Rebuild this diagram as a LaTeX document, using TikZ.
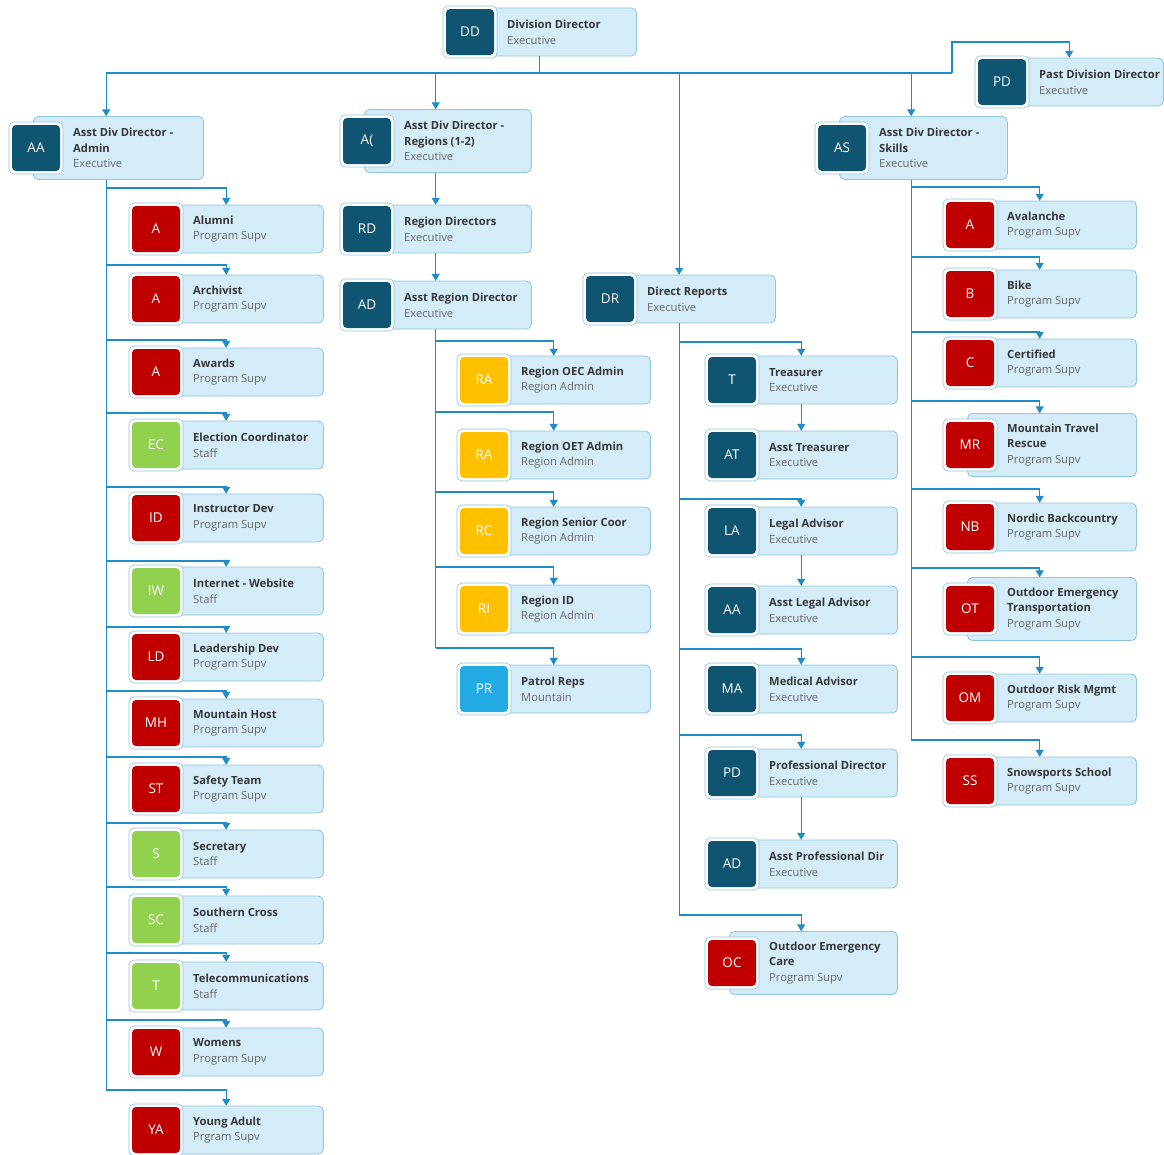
\documentclass[tikz,border=0pt]{standalone}
\usepackage{fontspec}
\setmainfont{Open Sans}
\usetikzlibrary{arrows.meta}
\definecolor{cardfill}{HTML}{D4ECF7}
\definecolor{carddraw}{HTML}{8FC5DF}
\definecolor{conncol}{HTML}{1E8CC7}
\definecolor{dark}{HTML}{0F5470}
\definecolor{redb}{HTML}{C00000}
\definecolor{greenb}{HTML}{92D050}
\definecolor{yellowb}{HTML}{FFC000}
\definecolor{blueb}{HTML}{22ABE2}
\definecolor{titlecol}{HTML}{363636}
\definecolor{subcol}{HTML}{686868}
\newcommand{\subt}[1]{\textcolor{subcol}{\mdseries #1}}
\tikzset{
  slot/.style={draw=none, inner sep=0pt},
  card/.style={draw=carddraw, fill=cardfill, line width=0.8pt, rounded corners=5pt, inner sep=0pt},
  badgeout/.style={draw=carddraw, fill=white, line width=0.6pt, rounded corners=5pt, minimum width=54pt, minimum height=52pt, inner sep=0pt},
  badgein/.style={rounded corners=4pt, minimum width=48pt, minimum height=46pt, inner sep=0pt, text=white, font=\fontsize{13.5}{14}\selectfont},
  lbl/.style={anchor=west, align=left, inner sep=0pt, text=titlecol, font=\fontsize{11.2}{15.6}\selectfont\bfseries},
  line/.style={draw=conncol, line width=1.3pt},
  arr/.style={line, -{Triangle[width=8pt,length=7pt]}}
}
% #1 name, #2 left, #3 right, #4 center y, #5 height, #6 colour, #7 initials, #8 text
\newcommand{\org}[8]{%
  \node[slot, minimum width={#3-#2}, minimum height={#5}, anchor=west] (#1) at (#2,#4) {};
  \node[card, minimum width={#3-#2-24}, minimum height={#5}, anchor=west] (#1-c) at ({#2+24},#4) {};
  \node[badgeout] (#1-bo) at ({#2+27},#4) {};
  \node[badgein, fill=#6] (#1-bi) at ({#2+27},#4) {#7};
  \node[lbl] (#1-t) at ({#2+64},#4) {#8};
}
\newcommand{\branch}[3]{\draw[arr] (#1.south |- 0,#3) -| (#2.north);}
\begin{document}
\begin{tikzpicture}[x=1pt,y=-1pt]
\useasboundingbox[fill=white] (0,0) rectangle (1164,1154);
% top level
\org{dd}{443}{636}{32}{48}{dark}{DD}{Division Director\\\subt{Executive}}
\org{aa}{9}{203}{148}{63}{dark}{AA}{Asst Div Director -\\Admin\\\subt{Executive}}
\org{ar}{340}{531}{141}{63}{dark}{A(}{Asst Div Director -\\Regions (1-2)\\\subt{Executive}}
\org{rd}{340}{531}{229}{48}{dark}{RD}{Region Directors\\\subt{Executive}}
\org{ad}{340}{531}{305}{48}{dark}{AD}{Asst Region Director\\\subt{Executive}}
\org{dr}{583}{775}{299}{48}{dark}{DR}{Direct Reports\\\subt{Executive}}
\org{as}{815}{1007}{148}{63}{dark}{AS}{Asst Div Director -\\Skills\\\subt{Executive}}
\org{pd}{975}{1163}{82}{48}{dark}{PD}{Past Division Director\\\subt{Executive}}
% column 1
\org{c1a}{129}{323}{229}{48}{redb}{A}{Alumni\\\subt{Program Supv}}
\org{c1b}{129}{323}{299}{48}{redb}{A}{Archivist\\\subt{Program Supv}}
\org{c1c}{129}{323}{372}{48}{redb}{A}{Awards\\\subt{Program Supv}}
\org{c1d}{129}{323}{445}{48}{greenb}{EC}{Election Coordinator\\\subt{Staff}}
\org{c1e}{129}{323}{518}{48}{redb}{ID}{Instructor Dev\\\subt{Program Supv}}
\org{c1f}{129}{323}{591}{48}{greenb}{IW}{Internet - Website\\\subt{Staff}}
\org{c1g}{129}{323}{657}{48}{redb}{LD}{Leadership Dev\\\subt{Program Supv}}
\org{c1h}{129}{323}{723}{48}{redb}{MH}{Mountain Host\\\subt{Program Supv}}
\org{c1i}{129}{323}{789}{48}{redb}{ST}{Safety Team\\\subt{Program Supv}}
\org{c1j}{129}{323}{854}{48}{greenb}{S}{Secretary\\\subt{Staff}}
\org{c1k}{129}{323}{920}{48}{greenb}{SC}{Southern Cross\\\subt{Staff}}
\org{c1l}{129}{323}{986}{48}{greenb}{T}{Telecommunications\\\subt{Staff}}
\org{c1m}{129}{323}{1052}{48}{redb}{W}{Womens\\\subt{Program Supv}}
\org{c1n}{129}{323}{1130}{48}{redb}{YA}{Young Adult\\\subt{Prgram Supv}}
% column 2
\org{c2a}{457}{650}{380}{48}{yellowb}{RA}{Region OEC Admin\\\subt{Region Admin}}
\org{c2b}{457}{650}{455}{48}{yellowb}{RA}{Region OET Admin\\\subt{Region Admin}}
\org{c2c}{457}{650}{531}{48}{yellowb}{RC}{Region Senior Coor\\\subt{Region Admin}}
\org{c2d}{457}{650}{609}{48}{yellowb}{RI}{Region ID\\\subt{Region Admin}}
\org{c2e}{457}{650}{689}{48}{blueb}{PR}{Patrol Reps\\\subt{Mountain}}
% column 3
\org{c3a}{705}{897}{380}{48}{dark}{T}{Treasurer\\\subt{Executive}}
\org{c3b}{705}{897}{455}{48}{dark}{AT}{Asst Treasurer\\\subt{Executive}}
\org{c3c}{705}{897}{531}{48}{dark}{LA}{Legal Advisor\\\subt{Executive}}
\org{c3d}{705}{897}{610}{48}{dark}{AA}{Asst Legal Advisor\\\subt{Executive}}
\org{c3e}{705}{897}{689}{48}{dark}{MA}{Medical Advisor\\\subt{Executive}}
\org{c3f}{705}{897}{773}{48}{dark}{PD}{Professional Director\\\subt{Executive}}
\org{c3g}{705}{897}{864}{48}{dark}{AD}{Asst Professional Dir\\\subt{Executive}}
\org{c3h}{705}{897}{963}{63}{redb}{OC}{Outdoor Emergency\\Care\\\subt{Program Supv}}
% column 4
\org{c4a}{943}{1136}{225}{48}{redb}{A}{Avalanche\\\subt{Program Supv}}
\org{c4b}{943}{1136}{294}{48}{redb}{B}{Bike\\\subt{Program Supv}}
\org{c4c}{943}{1136}{363}{48}{redb}{C}{Certified\\\subt{Program Supv}}
\org{c4d}{943}{1136}{445}{63}{redb}{MR}{Mountain Travel\\Rescue\\\subt{Program Supv}}
\org{c4e}{943}{1136}{527}{48}{redb}{NB}{Nordic Backcountry\\\subt{Program Supv}}
\org{c4f}{943}{1136}{609}{63}{redb}{OT}{Outdoor Emergency\\Transportation\\\subt{Program Supv}}
\org{c4g}{943}{1136}{698}{48}{redb}{OM}{Outdoor Risk Mgmt\\\subt{Program Supv}}
\org{c4h}{943}{1136}{781}{48}{redb}{SS}{Snowsports School\\\subt{Program Supv}}
% top bus
\coordinate (pdj) at (952,73);
\coordinate (pdk) at (952,42);
\draw[line] (dd.south) -- (dd.south |- pdj);
\draw[line] (aa.north |- pdj) -- (pdj);
\draw[arr] (aa.north |- pdj) -- (aa.north);
\draw[arr] (ar.north |- pdj) -- (ar.north);
\draw[arr] (dr.north |- pdj) -- (dr.north);
\draw[arr] (as.north |- pdj) -- (as.north);
\draw[arr] (pdj) -- (pdk) -| (pd.north);
% chain in column 2
\draw[arr] (ar.south) -- (rd.north);
\draw[arr] (rd.south) -- (ad.north);
% column 1 trunk
\draw[line] (aa.south) -- (aa.south |- 0,1090);
\branch{aa}{c1a}{188}
\branch{aa}{c1b}{265}
\branch{aa}{c1c}{340}
\branch{aa}{c1d}{413}
\branch{aa}{c1e}{487}
\branch{aa}{c1f}{561}
\branch{aa}{c1g}{627}
\branch{aa}{c1h}{691}
\branch{aa}{c1i}{757}
\branch{aa}{c1j}{823}
\branch{aa}{c1k}{887}
\branch{aa}{c1l}{953}
\branch{aa}{c1m}{1020}
\branch{aa}{c1n}{1090}
% column 2 trunk
\draw[line] (ad.south) -- (ad.south |- 0,648);
\branch{ad}{c2a}{341}
\branch{ad}{c2b}{412}
\branch{ad}{c2c}{492}
\branch{ad}{c2d}{567}
\branch{ad}{c2e}{648}
% column 3 trunk
\draw[line] (dr.south) -- (dr.south |- 0,915);
\branch{dr}{c3a}{342}
\branch{dr}{c3c}{499}
\branch{dr}{c3e}{649}
\branch{dr}{c3f}{735}
\branch{dr}{c3h}{915}
\draw[arr] (c3a.south) -- (c3b.north);
\draw[arr] (c3c.south) -- (c3d.north);
\draw[arr] (c3f.south) -- (c3g.north);
% column 4 trunk
\draw[line] (as.south) -- (as.south |- 0,740);
\branch{as}{c4a}{187}
\branch{as}{c4b}{257}
\branch{as}{c4c}{332}
\branch{as}{c4d}{401}
\branch{as}{c4e}{489}
\branch{as}{c4f}{568}
\branch{as}{c4g}{657}
\branch{as}{c4h}{740}
\end{tikzpicture}
\end{document}
